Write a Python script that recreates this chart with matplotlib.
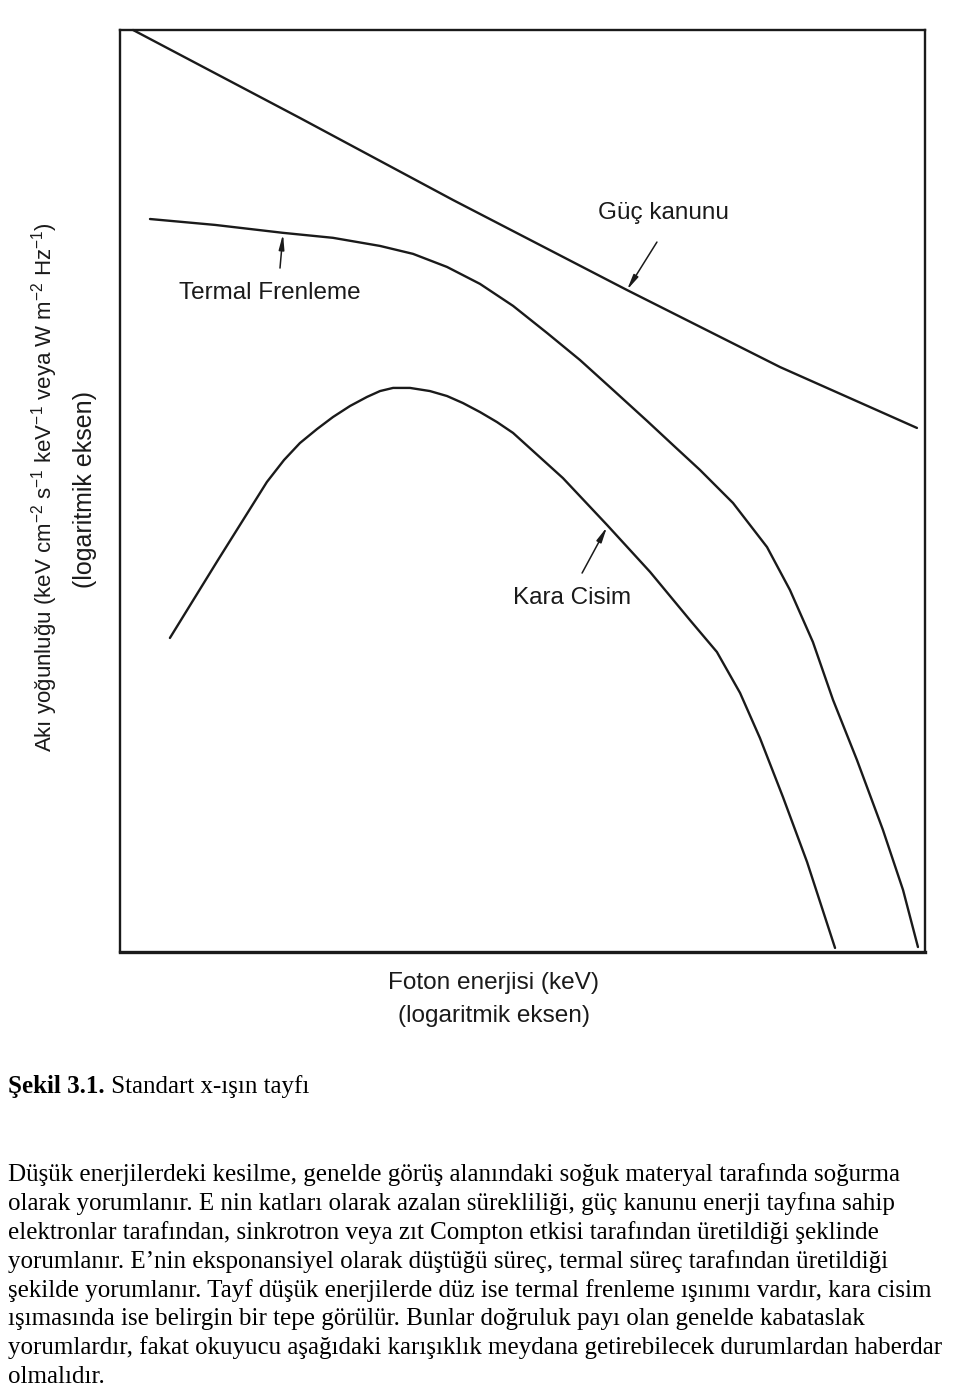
import numpy as np
import matplotlib
matplotlib.use('Agg')
import matplotlib.pyplot as plt

plt.rcParams['font.family'] = ['Liberation Sans', 'DejaVu Sans']
plt.rcParams['mathtext.fontset'] = 'custom'
plt.rcParams['mathtext.rm'] = 'Liberation Sans'
plt.rcParams['mathtext.it'] = 'Liberation Sans:italic'

# curve readings from the figure, in log10 units (x: log10 E [keV], y: log10 flux, arbitrary)
guc_logE = [-0.935, -0.106, 0.655, 1.519, 2.280, 2.960]
guc_logF = [2.000, 1.523, 1.078, 0.590, 0.172, -0.158]

termal_logE = [-0.851, -0.528, -0.190, 0.058, 0.292, 0.456, 0.625, 0.789, 0.953, 1.122,
               1.286, 1.450, 1.619, 1.758, 1.882, 2.046, 2.215, 2.329, 2.443, 2.543,
               2.662, 2.791, 2.891, 2.965]
termal_logF = [0.975, 0.943, 0.900, 0.873, 0.829, 0.786, 0.715, 0.623, 0.504, 0.357,
               0.210, 0.048, -0.120, -0.261, -0.386, -0.565, -0.804, -1.037, -1.319, -1.633,
               -1.959, -2.338, -2.664, -2.973]

kara_logE = [-0.752, -0.513, -0.270, -0.185, -0.106, -0.021, 0.058, 0.143, 0.227, 0.292,
             0.357, 0.441, 0.540, 0.625, 0.704, 0.789, 0.873, 0.953, 1.201, 1.420,
             1.634, 1.832, 1.966, 2.081, 2.180, 2.294, 2.414, 2.553]
kara_logF = [-1.297, -0.874, -0.451, -0.332, -0.240, -0.164, -0.099, -0.039, 0.010, 0.042,
             0.059, 0.059, 0.042, 0.015, -0.023, -0.072, -0.126, -0.185, -0.430, -0.684,
             -0.939, -1.200, -1.373, -1.595, -1.840, -2.159, -2.512, -2.978]

# labels: (text, label position, arrow tail, arrow tip) in log10 units
curve_labels = ['Güç kanunu', 'Termal Frenleme', 'Kara Cisim']
label_pos = [(1.698, 1.008), (-0.255, 0.574), (1.246, -1.080)]
arrow_tail = [(1.668, 0.850), (-0.205, 0.709), (1.296, -0.945)]
arrow_tip = [(1.519, 0.590), (-0.190, 0.894), (1.420, -0.695)]

ylabel_1 = 'Akı yoğunluğu (keV cm$^{-2}$ s$^{-1}$ keV$^{-1}$ veya W m$^{-2}$ Hz$^{-1}$)'
ylabel_2 = '(logaritmik eksen)'
xlabel_1 = 'Foton enerjisi (keV)'
xlabel_2 = '(logaritmik eksen)'

caption_bold = 'Şekil 3.1.'
caption_rest = ' Standart x-ışın tayfı'
paragraph = [
    'Düşük enerjilerdeki kesilme, genelde görüş alanındaki soğuk materyal tarafında soğurma',
    'olarak yorumlanır. E nin katları olarak azalan sürekliliği, güç kanunu enerji tayfına sahip',
    'elektronlar tarafından, sinkrotron veya zıt Compton etkisi tarafından üretildiği şeklinde',
    'yorumlanır. E\u2019nin eksponansiyel olarak düştüğü süreç, termal süreç tarafından üretildiği',
    'şekilde yorumlanır. Tayf düşük enerjilerde düz ise termal frenleme ışınımı vardır, kara cisim',
    'ışımasında ise belirgin bir tepe görülür. Bunlar doğruluk payı olan genelde kabataslak',
    'yorumlardır, fakat okuyucu aşağıdaki karışıklık meydana getirebilecek durumlardan haberdar',
    'olmalıdır.',
]

W, H = 960, 1388
ink = '#1a1a1a'
fig = plt.figure(figsize=(W / 100, H / 100), dpi=100)
ax = fig.add_axes([120 / W, 1 - 952 / H, 805 / W, 922 / H])
ax.set_xscale('log')
ax.set_yscale('log')
ax.set_xlim(10 ** -1, 10 ** 3)
ax.set_ylim(10 ** -3, 10 ** 2)
ax.set_xticks([])
ax.set_yticks([])
ax.minorticks_off()
ax.tick_params(which='both', length=0, labelleft=False, labelbottom=False)
for side, sp in ax.spines.items():
    sp.set_color(ink)
    sp.set_linewidth(2.4 if side == 'bottom' else 1.7)

for xs, ys in [(guc_logE, guc_logF), (termal_logE, termal_logF), (kara_logE, kara_logF)]:
    ax.plot(10 ** np.array(xs), 10 ** np.array(ys), color=ink, lw=1.7,
            solid_capstyle='round', solid_joinstyle='round', clip_on=False)

for txt, lp, tail, tip in zip(curve_labels, label_pos, arrow_tail, arrow_tip):
    ax.text(10 ** lp[0], 10 ** lp[1], txt, fontsize=17.5, color=ink, ha='center', va='center')
    ax.annotate('', xy=(10 ** tip[0], 10 ** tip[1]), xytext=(10 ** tail[0], 10 ** tail[1]),
                arrowprops=dict(arrowstyle='-|>,head_length=0.9,head_width=0.16',
                                lw=1.1, color=ink, shrinkA=0, shrinkB=0))

fig.text(45 / W, 1 - 487 / H, ylabel_1, rotation=90, fontsize=16, color=ink,
         ha='center', va='center')
fig.text(85 / W, 1 - 490 / H, ylabel_2, rotation=90, fontsize=18, color=ink,
         ha='center', va='center')
fig.text(494 / W, 1 - 983 / H, xlabel_1, fontsize=17.6, color=ink, ha='center', va='center')
fig.text(494 / W, 1 - 1016 / H, xlabel_2, fontsize=17.6, color=ink, ha='center', va='center')

serif = ['Liberation Serif', 'DejaVu Serif']
cap = fig.text(8 / W, 1 - 1093 / H, caption_bold, family=serif, fontsize=18,
               weight='bold', color='black', ha='left', va='baseline')
fig.canvas.draw()
bb = cap.get_window_extent()
fig.text(bb.x1 / W, 1 - 1093 / H, caption_rest, family=serif, fontsize=18,
         color='black', ha='left', va='baseline')

for i, line in enumerate(paragraph):
    fig.text(8 / W, 1 - (1181 + i * 28.9) / H, line, family=serif, fontsize=18,
             color='black', ha='left', va='baseline')

fig.savefig('out.png', dpi=100, facecolor='white')
